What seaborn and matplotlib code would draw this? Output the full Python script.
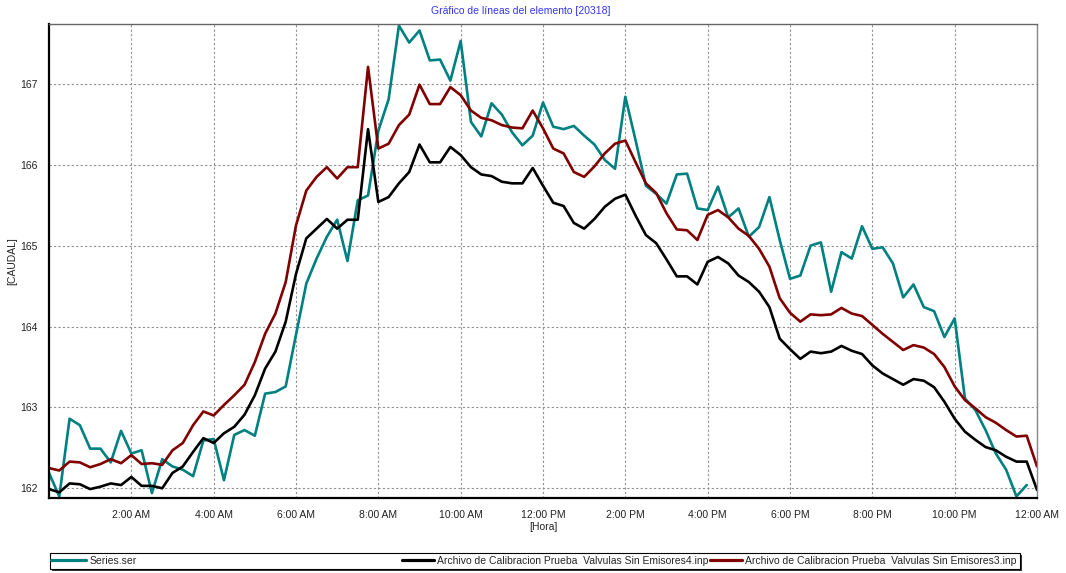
import numpy as np
import pandas as pd
import matplotlib
matplotlib.use("Agg")
import matplotlib.pyplot as plt
from matplotlib.patches import Rectangle
from matplotlib.lines import Line2D
import seaborn as sns

# datos cada 15 minutos (0:00 -> 24:00)
horas = np.arange(97) * 0.25

series_ser = [
    162.19, 161.90, 162.86, 162.78, 162.49, 162.49, 162.32, 162.71, 162.43, 162.47,
    161.94, 162.36, 162.27, 162.23, 162.15, 162.59, 162.61, 162.10, 162.66, 162.72,
    162.65, 163.17, 163.19, 163.26, 163.90, 164.53, 164.84, 165.11, 165.32, 164.81,
    165.56, 165.62, 166.42, 166.81, 167.72, 167.51, 167.66, 167.29, 167.30, 167.04,
    167.53, 166.53, 166.35, 166.76, 166.62, 166.40, 166.24, 166.36, 166.77, 166.47,
    166.44, 166.48, 166.36, 166.25, 166.06, 165.95, 166.84, 166.30, 165.74, 165.64,
    165.52, 165.88, 165.89, 165.46, 165.44, 165.73, 165.35, 165.46, 165.11, 165.23,
    165.60, 165.07, 164.59, 164.63, 165.00, 165.04, 164.43, 164.92, 164.84, 165.24,
    164.96, 164.98, 164.78, 164.36, 164.52, 164.24, 164.19, 163.87, 164.10, 163.11,
    162.97, 162.72, 162.43, 162.23, 161.90, 162.04, np.nan,
]

emisores4 = [
    161.99, 161.95, 162.06, 162.05, 161.99, 162.02, 162.06, 162.04, 162.14, 162.03,
    162.03, 162.00, 162.19, 162.27, 162.45, 162.62, 162.56, 162.68, 162.76, 162.91,
    163.15, 163.48, 163.69, 164.06, 164.65, 165.09, 165.21, 165.33, 165.21, 165.32,
    165.32, 166.44, 165.54, 165.60, 165.77, 165.91, 166.25, 166.03, 166.03, 166.22,
    166.12, 165.97, 165.88, 165.86, 165.79, 165.77, 165.77, 165.96, 165.74, 165.53,
    165.49, 165.28, 165.21, 165.33, 165.48, 165.58, 165.63, 165.37, 165.13, 165.03,
    164.83, 164.62, 164.62, 164.52, 164.80, 164.86, 164.78, 164.63, 164.55, 164.43,
    164.24, 163.85, 163.72, 163.60, 163.69, 163.67, 163.69, 163.76, 163.70, 163.66,
    163.52, 163.42, 163.35, 163.28, 163.35, 163.33, 163.25, 163.07, 162.86, 162.70,
    162.60, 162.51, 162.47, 162.39, 162.33, 162.33, 161.98,
]

emisores3 = [
    162.25, 162.22, 162.33, 162.32, 162.26, 162.30, 162.36, 162.31, 162.41, 162.30,
    162.31, 162.29, 162.47, 162.56, 162.78, 162.95, 162.90, 163.03, 163.15, 163.28,
    163.56, 163.91, 164.16, 164.55, 165.25, 165.68, 165.85, 165.97, 165.83, 165.97,
    165.97, 167.21, 166.20, 166.26, 166.49, 166.62, 166.99, 166.75, 166.75, 166.96,
    166.86, 166.67, 166.58, 166.55, 166.49, 166.46, 166.45, 166.67, 166.45, 166.20,
    166.14, 165.91, 165.85, 165.98, 166.14, 166.26, 166.30, 166.03, 165.77, 165.65,
    165.40, 165.20, 165.19, 165.07, 165.38, 165.44, 165.35, 165.21, 165.12, 164.96,
    164.74, 164.35, 164.17, 164.06, 164.15, 164.14, 164.15, 164.23, 164.16, 164.13,
    164.02, 163.91, 163.81, 163.71, 163.77, 163.74, 163.66, 163.50, 163.26, 163.09,
    162.99, 162.88, 162.81, 162.72, 162.64, 162.65, 162.27,
]

nombres = ["Series.ser",
           "Archivo de Calibracion Prueba  Valvulas Sin Emisores4.inp",
           "Archivo de Calibracion Prueba  Valvulas Sin Emisores3.inp"]
colores = ["#008080", "#000000", "#800000"]

xticks = [2, 4, 6, 8, 10, 12, 14, 16, 18, 20, 22, 24]
xlabels = ["2:00 AM", "4:00 AM", "6:00 AM", "8:00 AM", "10:00 AM", "12:00 PM",
           "2:00 PM", "4:00 PM", "6:00 PM", "8:00 PM", "10:00 PM", "12:00 AM"]
yticks = [162, 163, 164, 165, 166, 167]

sns.set_theme(style="white")
plt.rcParams['font.family'] = ['Liberation Sans', 'DejaVu Sans']

fig = plt.figure(figsize=(10.66, 5.73), dpi=100)
ax = fig.add_axes([49/1066, 1-498/573, 988/1066, 474/573])

for serie, nombre, c in zip([series_ser, emisores4, emisores3], nombres, colores):
    df = pd.DataFrame({"hora": horas, "valor": serie})
    sns.lineplot(data=df, x="hora", y="valor", color=c, lw=1.9, estimator=None, ax=ax)

ax.set_xlim(0, 24)
ax.set_ylim(161.88, 167.74)
ax.set_xticks(xticks)
ax.set_xticklabels(xlabels, fontsize=7.5, color="#222222")
ax.set_xticks(np.arange(0, 24.01, 0.5), minor=True)
ax.set_yticks(yticks)
ax.set_yticklabels([str(v) for v in yticks], fontsize=7.5, color="#222222")
ax.set_yticks(np.arange(162.5, 167.6, 1), minor=True)
ax.tick_params(axis="x", which="major", direction="out", length=4, width=0.8, pad=5, color="#333333")
ax.tick_params(axis="x", which="minor", direction="out", length=3, width=0.6, color="#555555")
ax.tick_params(axis="y", which="major", direction="out", length=0, pad=8)
ax.tick_params(axis="y", which="minor", direction="in", length=2, width=0.6, color="#555555")
ax.grid(True, which="major", linestyle=(0, (2, 2)), color="#909090", lw=0.8)

ax.set_xlabel("[Hora]", fontsize=7.5, labelpad=1, color="#222222")
ax.set_ylabel("[CAUDAL]", fontsize=7.5, color="#222222")
ax.yaxis.set_label_coords(-32/988, 0.5)

for s in ["left", "bottom"]:
    ax.spines[s].set_color("black")
    ax.spines[s].set_linewidth(1.6)
ax.spines["top"].set_color("#666666")
ax.spines["top"].set_linewidth(1.0)
ax.spines["right"].set_color("#888888")
ax.spines["right"].set_linewidth(1.0)
ax.spines["right"].set_linestyle((0, (2, 1)))

fig.text(521/1066, 1-11/573, "Gráfico de líneas del elemento [20318]",
         ha="center", va="center", fontsize=7.5, color="#3333ff")

# caja de la leyenda con sombra
x0, x1 = 50/1066, 1020/1066
y0, y1 = 1-569/573, 1-553/573
fig.patches.append(Rectangle((x0 + 2/1066, y0 - 2/573), x1 - x0, y1 - y0, transform=fig.transFigure,
                             facecolor="#333333", edgecolor="none", zorder=1))
fig.patches.append(Rectangle((x0, y0), x1 - x0, y1 - y0, transform=fig.transFigure,
                             facecolor="white", edgecolor="black", lw=0.8, zorder=2))

handles = [Line2D([], [], color=c, lw=2.3) for c in colores]
leg1 = fig.legend(handles[:1], nombres[:1], loc="center left", bbox_to_anchor=(51/1066, (y0 + y1)/2),
                  frameon=False, fontsize=7.5, handlelength=3.4, handletextpad=0.3, borderpad=0, borderaxespad=0)
leg2 = fig.legend(handles[1:], nombres[1:], loc="center right", bbox_to_anchor=(1016/1066, (y0 + y1)/2),
                  ncol=2, frameon=False, fontsize=7.5, handlelength=3.0, handletextpad=0.3,
                  columnspacing=0.2, borderpad=0, borderaxespad=0)
leg1.set_zorder(5)
leg2.set_zorder(5)

fig.savefig("out.png", dpi=100)
